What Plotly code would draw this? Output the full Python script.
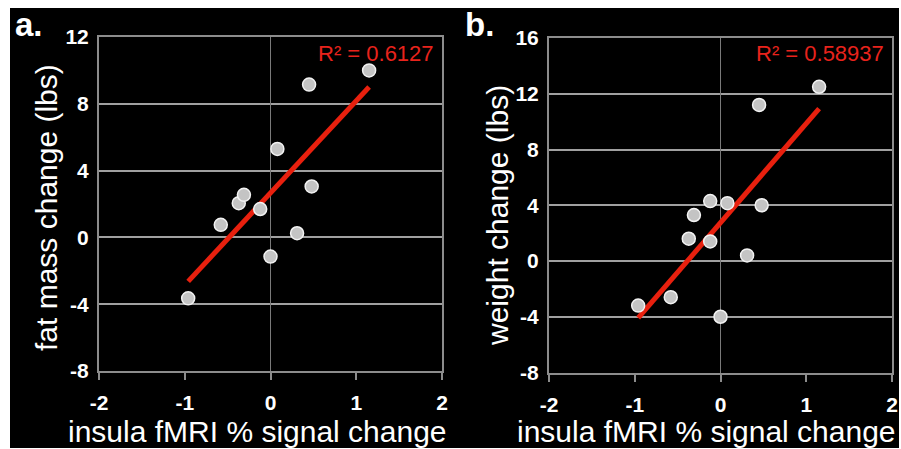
import numpy as np
import plotly.graph_objects as go

# ---- data ----
insula_a = [-0.96, -0.58, -0.37, -0.31, -0.12, 0.00, 0.08, 0.31, 0.45, 0.48, 1.15]
fatmass_a = [-3.65, 0.75, 2.05, 2.55, 1.70, -1.15, 5.30, 0.25, 9.15, 3.05, 10.00]

insula_b = [-0.96, -0.58, -0.37, -0.31, -0.12, -0.12, 0.00, 0.08, 0.31, 0.45, 0.48, 1.15]
weight_b = [-3.20, -2.60, 1.60, 3.30, 1.40, 4.30, -4.00, 4.15, 0.40, 11.20, 4.00, 12.50]

r2_a = "R² = 0.6127"
r2_b = "R² = 0.58937"
x_ticks = [-2, -1, 0, 1, 2]
x_tick_text = ["-2", "-1", "0", "1", "2"]
y_ticks_a = [-8, -4, 0, 4, 8, 12]
y_tick_text_a = ["-8", "-4", "0", "4", "8", "12"]
y_ticks_b = [-8, -4, 0, 4, 8, 12, 16]
y_tick_text_b = ["-8", "-4", "0", "4", "8", "12", "16"]

FONT = "Liberation Sans, Arial, sans-serif"
W, H = 901, 449


def fit_line(x, y):
    k, b = np.polyfit(x, y, 1)
    xs = np.array([min(x), max(x)])
    return xs, k * xs + b


fig = go.Figure()
for xa, ya, xs, ys in [("x", "y", insula_a, fatmass_a), ("x2", "y2", insula_b, weight_b)]:
    lx, ly = fit_line(xs, ys)
    fig.add_trace(go.Scatter(x=lx, y=ly, mode="lines", xaxis=xa, yaxis=ya,
                             line=dict(color="#e8200e", width=5), showlegend=False,
                             hoverinfo="skip"))
    fig.add_trace(go.Scatter(x=xs, y=ys, mode="markers", xaxis=xa, yaxis=ya,
                             marker=dict(size=13, color="#c4c4c4",
                                         line=dict(color="#f2f2f2", width=1.5)),
                             showlegend=False))


def xaxis_style(domain, anchor):
    return dict(domain=domain, anchor=anchor, range=[-2, 2],
                tickvals=x_ticks, ticktext=x_tick_text,
                showgrid=False, zeroline=True, zerolinecolor="#7a7a7a", zerolinewidth=1,
                showline=True, linecolor="#8c8c8c", linewidth=2, mirror=True,
                ticks="outside", ticklen=7, tickwidth=1.5, tickcolor="#8c8c8c",
                ticklabelstandoff=5, automargin=False,
                tickfont=dict(family=FONT, size=21, color="white", weight="bold"),
                fixedrange=True)


def yaxis_style(domain, anchor, rng, vals, text):
    return dict(domain=domain, anchor=anchor, range=rng, tickvals=vals, ticktext=text,
                showgrid=True, gridcolor="#a0a0a0", gridwidth=2, zeroline=False,
                showline=True, linecolor="#8c8c8c", linewidth=2, mirror=True,
                ticks="outside", ticklen=4, tickcolor="rgba(0,0,0,0)",
                automargin=False,
                tickfont=dict(family=FONT, size=21, color="white", weight="bold"),
                fixedrange=True)


fig.update_layout(
    width=W, height=H, autosize=False,
    margin=dict(l=0, r=0, t=0, b=0, pad=0, autoexpand=False),
    paper_bgcolor="white", plot_bgcolor="black",
    xaxis=xaxis_style([99 / W, 442 / W], "y"),
    yaxis=yaxis_style([1 - 371 / H, 1 - 37 / H], "x", [-8, 12], y_ticks_a, y_tick_text_a),
    xaxis2=xaxis_style([549 / W, 892 / W], "y2"),
    yaxis2=yaxis_style([1 - 372.5 / H, 1 - 38 / H], "x2", [-8, 16], y_ticks_b, y_tick_text_b),
    shapes=[dict(type="rect", xref="paper", yref="paper", layer="below",
                 x0=10 / W, x1=899 / W, y0=1 - 448 / H, y1=1 - 8 / H,
                 fillcolor="black", line=dict(width=0))],
)

white_title = dict(family=FONT, size=30, color="white")
ann = [
    dict(text="a.", x=13 / W, y=1 - 4 / H, xanchor="left", yanchor="top",
         font=dict(family=FONT, size=33, color="white", weight="bold")),
    dict(text="b.", x=463 / W, y=1 - 4 / H, xanchor="left", yanchor="top",
         font=dict(family=FONT, size=33, color="white", weight="bold")),
    dict(text="insula fMRI % signal change", x=257 / W, y=1 - 431 / H,
         xanchor="center", yanchor="middle", font=white_title),
    dict(text="insula fMRI % signal change", x=706 / W, y=1 - 431 / H,
         xanchor="center", yanchor="middle", font=white_title),
    dict(text="fat mass change (lbs)", x=46 / W, y=1 - 208 / H, textangle=-90,
         xanchor="center", yanchor="middle", font=white_title),
    dict(text="weight change (lbs)", x=497 / W, y=1 - 216 / H, textangle=-90,
         xanchor="center", yanchor="middle", font=white_title),
    dict(text=r2_a, x=436 / W, y=1 - 54 / H, xanchor="right", yanchor="middle",
         font=dict(family=FONT, size=22, color="#e8231c")),
    dict(text=r2_b, x=886 / W, y=1 - 54 / H, xanchor="right", yanchor="middle",
         font=dict(family=FONT, size=22, color="#e8231c")),
]
for a in ann:
    a.update(xref="paper", yref="paper", showarrow=False)
fig.update_layout(annotations=ann)

fig.write_html(
    "out.html",
    config={"displayModeBar": False},
    post_script="document.body.style.margin='0';document.body.style.overflow='hidden';",
)
